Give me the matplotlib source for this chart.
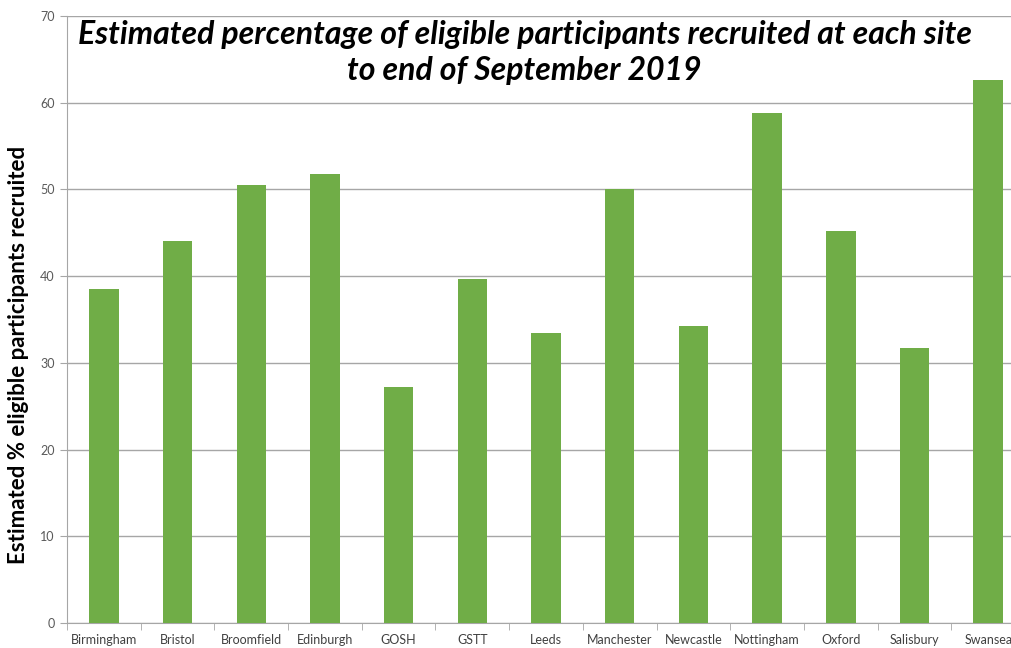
import numpy as np
import matplotlib.pyplot as plt

# Site data
sites = ["Birmingham", "Bristol", "Broomfield", "Edinburgh", "GOSH", "GSTT", "Leeds",
         "Manchester", "Newcastle", "Nottingham", "Oxford", "Salisbury", "Swansea"]
pct_recruited = [38.5, 44.1, 50.5, 51.8, 27.2, 39.7, 33.5,
                 50.0, 34.3, 58.8, 45.2, 31.7, 62.6]

plt.rcParams['font.family'] = ['Lato', 'DejaVu Sans']

fig = plt.figure(figsize=(10.11, 6.48), dpi=100)
ax = fig.add_axes([0.0663, 0.0386, 0.9476, 0.9367])

x = np.arange(len(sites))
ax.bar(x, pct_recruited, width=0.4, color="#70AD47", zorder=3)

ax.set_xlim(-0.5, len(sites) - 0.5)
ax.set_ylim(0, 70)
ax.set_yticks(range(0, 71, 10))
ax.yaxis.grid(True, color="#A6A6A6", linewidth=1, zorder=0)

# category labels centred, ticks on the boundaries
ax.set_xticks(x)
ax.set_xticklabels(sites, fontsize=9, color="#404040")
ax.tick_params(axis='x', length=0, pad=8)
ax.set_xticks(np.arange(-0.5, len(sites), 1), minor=True)
ax.tick_params(axis='x', which='minor', length=5, color="#A6A6A6")
ax.tick_params(axis='y', length=5, color="#A6A6A6", labelsize=9, labelcolor="#595959", pad=4)

for s in ["top", "right"]:
    ax.spines[s].set_visible(False)
for s in ["left", "bottom"]:
    ax.spines[s].set_color("#A6A6A6")

# y label sits a little below the axes centre in the original
fig.text(0.018, 0.452, "Estimated % eligible participants recruited", rotation=90,
         ha="center", va="center", fontsize=16, fontweight="bold")

fig.text(0.519, 0.919, "Estimated percentage of eligible participants recruited at each site\nto end of September 2019",
         ha="center", va="center", fontsize=23, fontweight="bold", fontstyle="italic",
         linespacing=1.3)

fig.savefig("out.png", dpi=100)
